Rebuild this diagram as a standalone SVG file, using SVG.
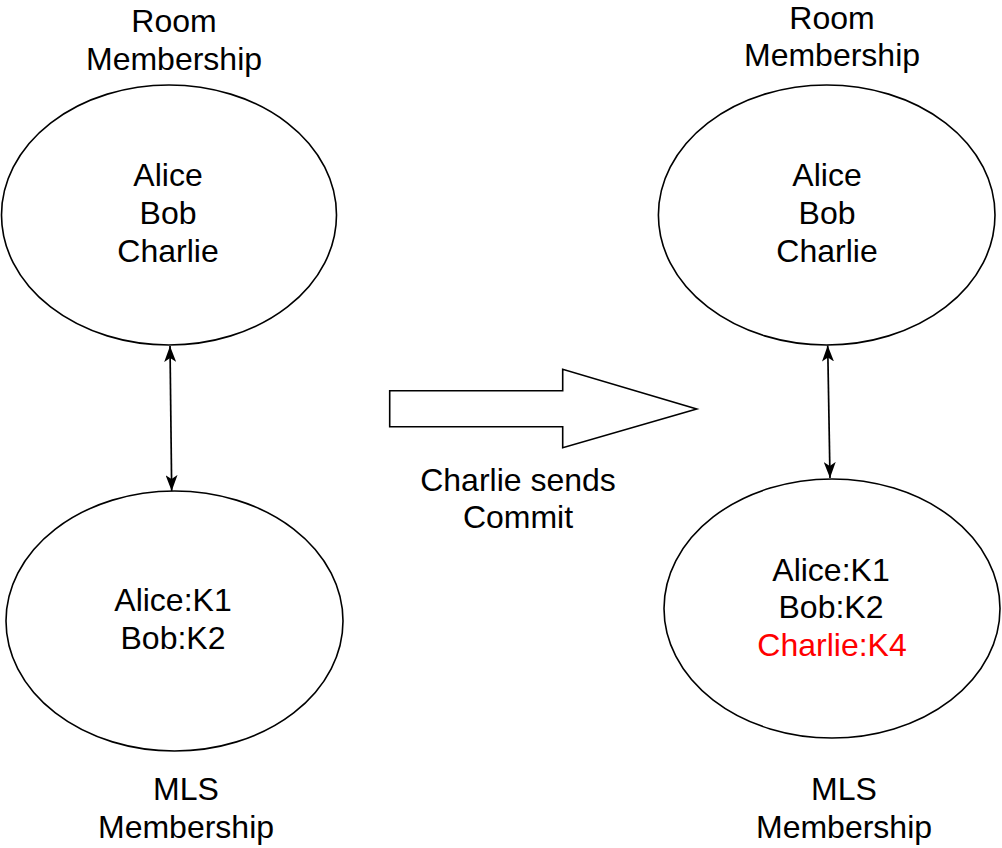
<svg xmlns="http://www.w3.org/2000/svg" width="1002" height="848" viewBox="0 0 1002 848">
  <style>
    .shape { fill: #ffffff; stroke: #000000; stroke-width: 1.6; }
    .conn { fill: none; stroke: #000000; stroke-width: 1.7; }
    text { font-family: "Liberation Sans", Arial, Helvetica, sans-serif; font-size: 32px; fill: #000000; text-anchor: middle; }
    .red { fill: #ff0000; }
  </style>
  <defs>
    <marker id="arrow" viewBox="0 0 16 12" refX="16" refY="6" markerWidth="16" markerHeight="12" markerUnits="userSpaceOnUse" orient="auto-start-reverse">
      <path d="M16,6 L0,0 L4,6 L0,12 Z" fill="#000000" stroke="none"/>
    </marker>
  </defs>
  <rect x="0" y="0" width="1002" height="848" fill="#ffffff"/>

  <g id="connectors">
    <line class="conn" x1="170" y1="346" x2="171.7" y2="491" marker-start="url(#arrow)" marker-end="url(#arrow)"/>
    <line class="conn" x1="827.7" y1="345.5" x2="830" y2="478" marker-start="url(#arrow)" marker-end="url(#arrow)"/>
  </g>

  <g id="room-left">
    <ellipse class="shape" cx="169" cy="215" rx="167.5" ry="130"/>
    <text x="168" y="186">Alice</text>
    <text x="168" y="224">Bob</text>
    <text x="168" y="262">Charlie</text>
  </g>
  <g id="room-left-label">
    <text x="174" y="32">Room</text>
    <text x="174" y="70">Membership</text>
  </g>

  <g id="mls-left">
    <ellipse class="shape" cx="174.5" cy="621" rx="168.5" ry="130"/>
    <text x="173" y="611">Alice:K1</text>
    <text x="173" y="649">Bob:K2</text>
  </g>
  <g id="mls-left-label">
    <text x="186" y="800">MLS</text>
    <text x="186" y="838">Membership</text>
  </g>

  <g id="commit-arrow">
    <polygon class="shape" points="389.7,390.7 562.7,390.7 562.7,369.3 696.7,409 562.7,447.7 562.7,426.7 389.7,426.7"/>
  </g>
  <g id="commit-label">
    <text x="518" y="491">Charlie sends</text>
    <text x="518" y="528">Commit</text>
  </g>

  <g id="room-right">
    <ellipse class="shape" cx="826.7" cy="215" rx="168.3" ry="130"/>
    <text x="827" y="186">Alice</text>
    <text x="827" y="224">Bob</text>
    <text x="827" y="262">Charlie</text>
  </g>
  <g id="room-right-label">
    <text x="832" y="29">Room</text>
    <text x="832" y="66">Membership</text>
  </g>

  <g id="mls-right">
    <ellipse class="shape" cx="832" cy="608.5" rx="168" ry="129.5"/>
    <text x="831" y="581">Alice:K1</text>
    <text x="831" y="618">Bob:K2</text>
    <text class="red" x="832" y="656">Charlie:K4</text>
  </g>
  <g id="mls-right-label">
    <text x="844" y="800">MLS</text>
    <text x="844" y="838">Membership</text>
  </g>
</svg>
